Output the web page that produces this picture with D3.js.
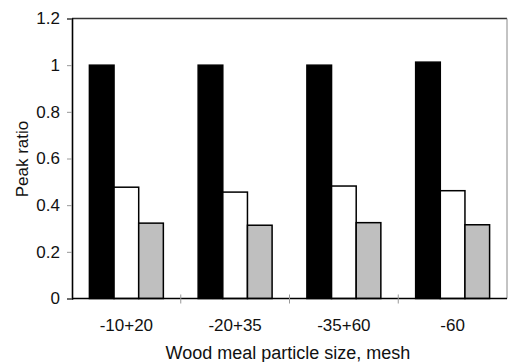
<!DOCTYPE html>
<html>
<head>
<meta charset="utf-8">
<script src="https://cdn.jsdelivr.net/npm/d3@7"></script>
<style>
  html, body { margin: 0; padding: 0; background: #fff; }
  svg { display: block; }
  text { font-family: "Liberation Sans", Arial, sans-serif; fill: #111; }
</style>
</head>
<body>
<svg id="chart" width="508" height="362"></svg>
<script>
// Particle-size fractions (mesh) and peak ratios for the three series
const categories = ["-10+20", "-20+35", "-35+60", "-60"];
const seriesNames = ["s1", "s2", "s3"];
const blackValues = [1.0, 1.0, 1.0, 1.013];
const whiteValues = [0.477, 0.456, 0.482, 0.462];
const grayValues  = [0.323, 0.314, 0.325, 0.316];
const yTicks = [0, 0.2, 0.4, 0.6, 0.8, 1, 1.2];
const yLabel = "Peak ratio";
const xLabel = "Wood meal particle size, mesh";

const seriesValues = [blackValues, whiteValues, grayValues];
const seriesFill = ["#000000", "#ffffff", "#bfbfbf"];

const svg = d3.select("#chart");
const plot = { left: 72, right: 507, top: 18.5, bottom: 298.5 };

const y = d3.scaleLinear().domain([0, 1.2]).range([plot.bottom, plot.top]);
const x0 = d3.scaleBand().domain(categories)
  .range([plot.left, plot.right]).paddingInner(0.32).paddingOuter(0.16);
const x1 = d3.scaleBand().domain(seriesNames).range([0, x0.bandwidth()]).padding(0);

// Plot area frame (top and right edges)
svg.append("line").attr("x1", plot.left).attr("x2", plot.right)
  .attr("y1", plot.top).attr("y2", plot.top)
  .attr("stroke", "#333").attr("stroke-width", 1.6);
svg.append("line").attr("x1", plot.right).attr("x2", plot.right)
  .attr("y1", plot.top).attr("y2", plot.bottom)
  .attr("stroke", "#888").attr("stroke-width", 1);

// Bars
const groups = svg.append("g").selectAll("g")
  .data(categories).join("g")
  .attr("transform", d => `translate(${x0(d)},0)`);

groups.selectAll("rect")
  .data((c, i) => seriesNames.map((s, j) => ({ s, j, v: seriesValues[j][i] })))
  .join("rect")
  .attr("x", d => x1(d.s))
  .attr("width", x1.bandwidth())
  .attr("y", d => y(d.v))
  .attr("height", d => y(0) - y(d.v))
  .attr("fill", d => seriesFill[d.j])
  .attr("stroke", "#000")
  .attr("stroke-width", 1.5);

// Y axis
const yAxis = d3.axisLeft(y).tickValues(yTicks).tickSize(5).tickPadding(7)
  .tickFormat(d => d3.format("")(+d.toFixed(1)));
const gy = svg.append("g").attr("transform", `translate(${plot.left},0)`).call(yAxis);
gy.select(".domain").attr("stroke", "#000").attr("stroke-width", 1.6);
gy.selectAll(".tick line").attr("stroke", "#999");
gy.selectAll(".tick text").attr("font-size", 17)
  .attr("font-family", "Liberation Sans, Arial, sans-serif").attr("fill", "#111");

// X axis: tick marks sit on category boundaries, labels at centres
const gx = svg.append("g").attr("transform", `translate(0,${plot.bottom})`);
gx.append("line").attr("x1", plot.left).attr("x2", plot.right)
  .attr("stroke", "#000").attr("stroke-width", 1.6);
const step = x0.step();
const boundaries = d3.range(1, categories.length).map(k => plot.left + k * step);
gx.selectAll(".bt").data(boundaries).join("line")
  .attr("x1", d => d).attr("x2", d => d)
  .attr("y1", -4).attr("y2", 5)
  .attr("stroke", "#999");
gx.selectAll(".cl").data(categories).join("text")
  .attr("x", d => x0(d) + x0.bandwidth() / 2)
  .attr("y", 32)
  .attr("text-anchor", "middle")
  .attr("font-size", 17)
  .text(d => d);

// Axis titles
svg.append("text")
  .attr("x", 288).attr("y", 359)
  .attr("text-anchor", "middle")
  .attr("font-size", 18)
  .text(xLabel);

svg.append("text")
  .attr("transform", "translate(28,159) rotate(-90)")
  .attr("text-anchor", "middle")
  .attr("font-size", 17)
  .text(yLabel);
</script>
</body>
</html>
